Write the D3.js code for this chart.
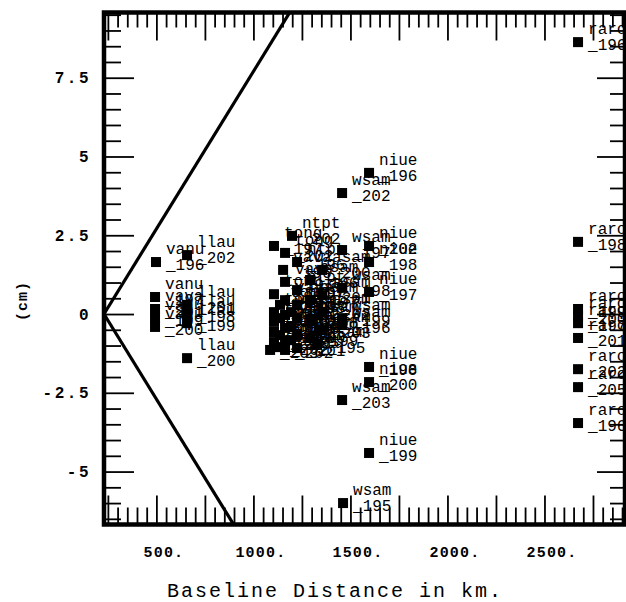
<!DOCTYPE html>
<html><head><meta charset="utf-8">
<script src="https://cdn.jsdelivr.net/npm/d3@7"></script>
<style>
body{margin:0;background:#fff}
svg{display:block}
</style>
</head><body>
<svg id="c" width="626" height="602"></svg>
<script>
// ---- data ----
const xTickValues = [500, 1000, 1500, 2000, 2500];
const xTickLabels = ["500.", "1000.", "1500.", "2000.", "2500."];
const yTickValues = [-5, -2.5, 0, 2.5, 5, 7.5];
const yTickLabels = ["-5", "-2.5", "0", "2.5", "5", "7.5"];

const envelopeUpperKm = [230, 1200];
const envelopeUpperCm = [0, 9.7];
const envelopeLowerKm = [230, 900];
const envelopeLowerCm = [0, -6.7];

const pointSite = [
  "vanu","llau","vanu","llau","vava","vanu","vanu","llau","llau","llau",
  "ntpt","tong","tong","tong","vava","vava","tong","tong","tong","tong",
  "vava","vava","vava","vava","vava","ntpt","ntpt","ntpt","ntpt","ntpt","ntpt",
  "asam","asam","asam","asam","asam","asam","asam","asam","asam",
  "tong","tong","tong","tong","ntpt","ntpt","ntpt","vava",
  "wsam","wsam","wsam","wsam","wsam","wsam","wsam",
  "niue","niue","niue","niue","niue","niue","niue",
  "raro","raro","raro","raro","raro","raro","raro","raro","raro"
];
const pointYear = [
  "196","202","197","201","201","199","200","198","199","200",
  "202","197","202","198","196","197","199","200","201","196",
  "198","199","200","201","202","196","197","198","199","200","201",
  "196","197","198","199","200","201","202","203","195",
  "203","195","198","202","202","203","195","203",
  "202","197","198","199","196","203","195",
  "196","202","198","197","198","200","199",
  "196","198","199","200","197","201","202","205","196"
];
const pointKm = [
  498,658,493,658,493,493,493,658,658,658,
  1199,1106,1163,1106,1153,1163,1106,1106,1106,1106,
  1163,1163,1163,1163,1163,1225,1225,1225,1225,1225,1225,
  1292,1292,1292,1292,1354,1354,1354,1354,1328,
  1137,1137,1137,1137,1194,1194,1194,1086,
  1457,1457,1457,1457,1457,1457,1462,
  1596,1596,1596,1596,1596,1596,1596,
  2673,2673,2673,2673,2673,2673,2673,2673,2673
];
const pointCm = [
  1.65,1.87,0.54,0.29,0.16,-0.13,-0.41,0.0,-0.29,-1.40,
  2.48,2.16,1.94,0.63,1.40,1.02,0.06,-0.25,-0.57,-0.89,
  0.44,-0.03,-0.44,-0.83,-1.14,1.65,0.76,0.29,-0.13,-0.67,-1.08,
  1.08,0.44,-0.19,-0.76,1.40,0.60,0.06,-0.51,-0.98,
  0.29,-0.13,-0.67,-1.05,0.06,-0.38,-0.83,-1.14,
  3.84,2.03,0.83,-0.13,-0.35,-2.73,-6.00,
  4.48,2.16,1.65,0.70,-1.68,-2.16,-4.41,
  8.63,2.29,0.16,-0.06,-0.29,-0.76,-1.75,-2.32,-3.46
];

// ---- drawing ----
const svg = d3.select("#c");
const L = 104, R = 625, T = 12.5, B = 524.5;
const x = d3.scaleLinear().domain([230, 2915]).range([L, R]);
const y = d3.scaleLinear().domain([-6.68, 9.57]).range([B, T]);

svg.append("rect").attr("width", 626).attr("height", 602).attr("fill", "#fff");

svg.append("defs").append("clipPath").attr("id", "plot")
  .append("rect").attr("x", L).attr("y", T).attr("width", R - L).attr("height", B - T);

const xMinor = d3.range(250, 2915, 50).filter(v => v % 250 !== 0);
const xMajor = d3.range(250, 2915, 250);
const yMinor = d3.range(-6.5, 9.6, 0.5).filter(v => Math.abs(v % 2.5) > 1e-6);
const yMajor = d3.range(-5, 9.6, 2.5);

function styleTicks(g) {
  g.select(".domain").remove();
  g.selectAll("line").attr("stroke", "#000").attr("stroke-width", 1.8);
  g.selectAll("text").remove();
}
// inward ticks, bottom
svg.append("g").attr("transform", `translate(0,${B})`)
  .call(d3.axisTop(x).tickValues(xMinor).tickSize(17)).call(styleTicks);
svg.append("g").attr("transform", `translate(0,${B})`)
  .call(d3.axisTop(x).tickValues(xMajor).tickSize(29)).call(styleTicks);
// inward ticks, top
svg.append("g").attr("transform", `translate(0,${T})`)
  .call(d3.axisBottom(x).tickValues(xMinor).tickSize(15)).call(styleTicks);
svg.append("g").attr("transform", `translate(0,${T})`)
  .call(d3.axisBottom(x).tickValues(xMajor).tickSize(28)).call(styleTicks);
// inward ticks, left
svg.append("g").attr("transform", `translate(${L},0)`)
  .call(d3.axisRight(y).tickValues(yMinor).tickSize(17)).call(styleTicks);
svg.append("g").attr("transform", `translate(${L},0)`)
  .call(d3.axisRight(y).tickValues(yMajor).tickSize(30)).call(styleTicks);
// inward ticks, right
svg.append("g").attr("transform", `translate(${R},0)`)
  .call(d3.axisLeft(y).tickValues(yMinor).tickSize(15)).call(styleTicks);
svg.append("g").attr("transform", `translate(${R},0)`)
  .call(d3.axisLeft(y).tickValues(yMajor).tickSize(28)).call(styleTicks);

// tick labels
const xLab = svg.append("g").attr("transform", `translate(0,${B})`)
  .call(d3.axisBottom(x).tickValues(xTickValues).tickSize(0).tickPadding(22)
    .tickFormat((d, i) => xTickLabels[i]));
xLab.select(".domain").remove();
xLab.selectAll("text")
  .attr("font-family", "'Liberation Mono', monospace")
  .attr("font-size", 15).attr("font-weight", "bold")
  .attr("letter-spacing", 1.2)
  .attr("dx", 7).attr("fill", "#000");

const yLab = svg.append("g").attr("transform", `translate(${L},0)`)
  .call(d3.axisLeft(y).tickValues(yTickValues).tickSize(0).tickPadding(13)
    .tickFormat((d, i) => yTickLabels[i]));
yLab.select(".domain").remove();
yLab.selectAll("text")
  .attr("font-family", "'Liberation Mono', monospace")
  .attr("font-size", 16).attr("font-weight", "bold")
  .attr("letter-spacing", 2.5).attr("fill", "#000");

// envelope lines
const env = svg.append("g").attr("clip-path", "url(#plot)");
const line = d3.line().x(d => x(d[0])).y(d => y(d[1]));
env.append("path").datum(envelopeUpperKm.map((k, i) => [k, envelopeUpperCm[i]]))
  .attr("d", line).attr("fill", "none").attr("stroke", "#000").attr("stroke-width", 3.2);
env.append("path").datum(envelopeLowerKm.map((k, i) => [k, envelopeLowerCm[i]]))
  .attr("d", line).attr("fill", "none").attr("stroke", "#000").attr("stroke-width", 3.2);

// points
const pts = pointKm.map((k, i) => ({km: k, cm: pointCm[i], site: pointSite[i], yr: pointYear[i]}));
const S = 10;
svg.append("g").selectAll("rect").data(pts).join("rect")
  .attr("x", d => x(d.km) - S / 2).attr("y", d => y(d.cm) - S / 2)
  .attr("width", S).attr("height", S).attr("fill", "#000");

const lab = svg.append("g")
  .attr("font-family", "'Liberation Mono', monospace")
  .attr("font-size", 16).attr("fill", "#000");
const t = lab.selectAll("text").data(pts).join("text")
  .attr("x", d => x(d.km) + 10).attr("y", d => y(d.cm) - 8);
t.append("tspan").text(d => d.site);
t.append("tspan").attr("x", d => x(d.km) + 10).attr("dy", 16).text(d => "_" + d.yr);

// frame
svg.append("rect").attr("x", L).attr("y", T).attr("width", R - L).attr("height", B - T)
  .attr("fill", "none").attr("stroke", "#000").attr("stroke-width", 4.5);

// axis titles
svg.append("text").attr("x", 335).attr("y", 597).attr("text-anchor", "middle")
  .attr("font-family", "'Liberation Mono', monospace").attr("font-size", 20)
  .attr("letter-spacing", 2).attr("fill", "#000")
  .text("Baseline Distance in km.");
svg.append("text").attr("transform", "translate(27,301) rotate(-90)")
  .attr("text-anchor", "middle")
  .attr("font-family", "'Liberation Mono', monospace").attr("font-size", 15)
  .attr("font-weight", "bold").attr("letter-spacing", 1).attr("fill", "#000")
  .text("(cm)");
</script>
</body></html>
